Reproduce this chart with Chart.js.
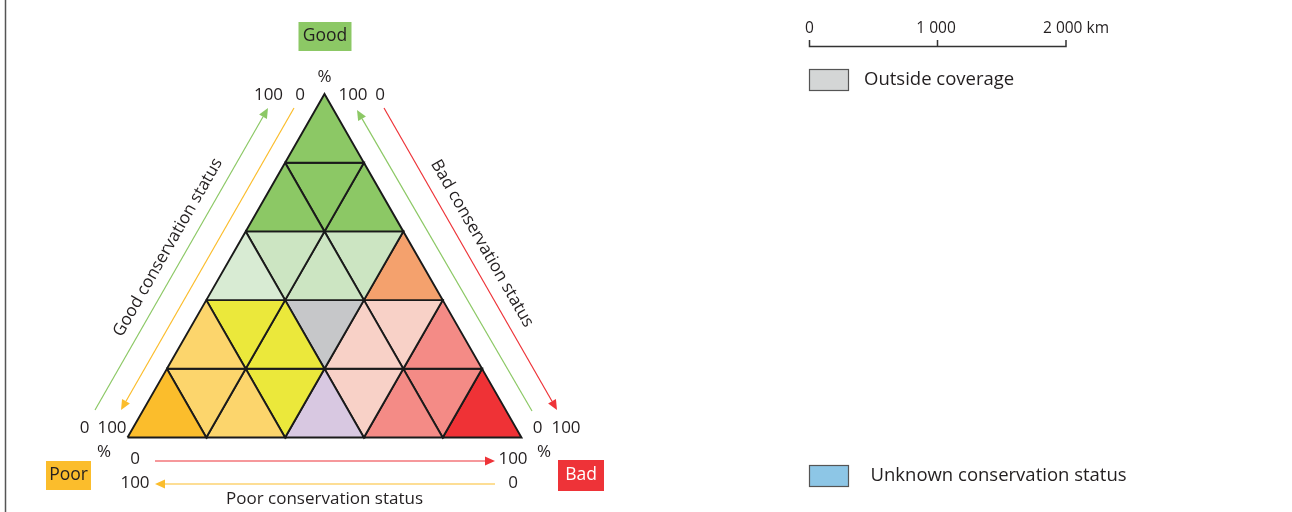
<!DOCTYPE html>
<html>
<head>
<meta charset="utf-8">
<script src="https://cdn.jsdelivr.net/npm/chart.js@4.4.1/dist/chart.umd.min.js"></script>
<style>
html, body { margin: 0; padding: 0; background: #fff; }
#wrap { width: 1292px; height: 512px; position: relative; overflow: hidden; }
</style>
</head>
<body>
<div id="wrap"><canvas id="ternary" width="1292" height="512"></canvas></div>
<script>
// share of "good" at the limits of each horizontal band, top to bottom
const bandsGood = [100, 80, 60, 40, 20, 0];
// colours of the cells, left to right, in each band
const rowTop = ["#8cc865"];
const rowSecond = ["#8cc865", "#8cc865", "#8cc865"];
const rowThird = ["#d8ebd3", "#cce5c2", "#cce5c2", "#cce5c2", "#f4a16d"];
const rowFourth = ["#fcd56c", "#ebe83b", "#ebe83b", "#c6c7c9", "#f8d1c7", "#f8d1c7", "#f48b86"];
const rowBottom = ["#fbbd2c", "#fcd56c", "#fcd56c", "#ebe83b", "#d8c8e1", "#f8d1c7", "#f48b86", "#f48b86", "#ef3236"];
const cornerNames = ["Good", "Poor", "Bad"];
const axisTitles = ["Good conservation status", "Bad conservation status", "Poor conservation status"];
const axisEnds = ["0", "100"];
const scaleTicks = ["0", "1 000", "2 000 km"];
const legendItems = ["Outside coverage", "Unknown conservation status"];

const GREEN = "#8cc865", ORANGE = "#fbbd2c", RED = "#ee3338", INK = "#231f20";
const step = bandsGood[0] - bandsGood[1];

// ternary (good, bad) -> plane
function pt(good, bad) {
	return { x: bad + good / 2, y: good };
}

const rows = [rowTop, rowSecond, rowThird, rowFourth, rowBottom];
const cells = [];
rows.forEach((colors, r) => {
	const gTop = bandsGood[r], gBot = bandsGood[r + 1];
	colors.forEach((color, k) => {
		const j = Math.floor(k / 2);
		let pts;
		if (k % 2 === 0) {
			pts = [pt(gBot, step * j), pt(gBot, step * (j + 1)), pt(gTop, step * j)];
		} else {
			pts = [pt(gTop, step * j), pt(gTop, step * (j + 1)), pt(gBot, step * (j + 1))];
		}
		pts.push(pts[0]);
		cells.push({
			data: pts,
			backgroundColor: color,
			borderColor: "#1a1a1a",
			borderWidth: 1.9,
			showLine: true,
			fill: "shape",
			pointRadius: 0,
			tension: 0
		});
	});
});

function arrow(ctx, x1, y1, x2, y2, color, head) {
	const a = Math.atan2(y2 - y1, x2 - x1);
	const hl = head ? 10 : 0, hw = 4.5;
	ctx.strokeStyle = color;
	ctx.fillStyle = color;
	ctx.lineWidth = 1.2;
	ctx.beginPath();
	ctx.moveTo(x1, y1);
	ctx.lineTo(x2 - hl * Math.cos(a), y2 - hl * Math.sin(a));
	ctx.stroke();
	if (head) {
		ctx.beginPath();
		ctx.moveTo(x2, y2);
		ctx.lineTo(x2 - hl * Math.cos(a) + hw * Math.sin(a), y2 - hl * Math.sin(a) - hw * Math.cos(a));
		ctx.lineTo(x2 - hl * Math.cos(a) - hw * Math.sin(a), y2 - hl * Math.sin(a) + hw * Math.cos(a));
		ctx.closePath();
		ctx.fill();
	}
}

function label(ctx, text, x, y, size, color) {
	ctx.font = (size || 17) + "px 'Open Sans'";
	ctx.fillStyle = color || INK;
	ctx.textAlign = "center";
	ctx.textBaseline = "middle";
	ctx.fillText(text, x, y);
}

function box(ctx, text, x, y, w, h, fill, color) {
	ctx.fillStyle = fill;
	ctx.fillRect(x, y, w, h);
	label(ctx, text, x + w / 2, y + h / 2, 17.5, color);
}

const decorations = {
	id: "decorations",
	afterDraw(chart) {
		const ctx = chart.ctx;
		const sx = chart.scales.x, sy = chart.scales.y;
		const apex = { x: sx.getPixelForValue(50), y: sy.getPixelForValue(100) };
		const left = { x: sx.getPixelForValue(0), y: sy.getPixelForValue(0) };
		const right = { x: sx.getPixelForValue(100), y: sy.getPixelForValue(0) };
		const ang = Math.atan2(left.y - apex.y, apex.x - left.x);
		ctx.save();

		// frame line at left
		ctx.strokeStyle = "#555";
		ctx.lineWidth = 1.5;
		ctx.beginPath();
		ctx.moveTo(5.5, 0);
		ctx.lineTo(5.5, 512);
		ctx.stroke();

		// corner boxes
		box(ctx, cornerNames[0], apex.x - 26, 22, 53, 29, GREEN, INK);
		box(ctx, cornerNames[1], 46, 461, 45, 29, ORANGE, INK);
		box(ctx, cornerNames[2], 558, 460, 46, 31, RED, "#fff");

		// end values
		label(ctx, "%", apex.x, 77);
		label(ctx, axisEnds[1], 268.5, 95);
		label(ctx, axisEnds[0], 300, 95);
		label(ctx, axisEnds[1], 353, 95);
		label(ctx, axisEnds[0], 380, 95);
		label(ctx, axisEnds[0], 84.5, 428);
		label(ctx, axisEnds[1], 112, 428);
		label(ctx, axisEnds[0], 537.5, 428);
		label(ctx, axisEnds[1], 566, 428);
		label(ctx, "%", 104, 452);
		label(ctx, "%", 544, 452);
		label(ctx, axisEnds[0], 135, 459);
		label(ctx, axisEnds[1], 513, 459);
		label(ctx, axisEnds[1], 135, 483);
		label(ctx, axisEnds[0], 513, 483);

		// arrows along the sides
		arrow(ctx, 95, 410, 268, 108, GREEN, true);
		arrow(ctx, 294, 108, 121, 410, ORANGE, true);
		arrow(ctx, 532, 411, 357, 110, GREEN, true);
		arrow(ctx, 384, 108, 557, 410, RED, true);
		arrow(ctx, 155, 461, 495, 461, RED, true);
		arrow(ctx, 495, 484, 155, 484, ORANGE, true);

		// axis titles
		ctx.save();
		ctx.translate(168, 247.5);
		ctx.rotate(-ang);
		label(ctx, axisTitles[0], 0, 0);
		ctx.restore();
		ctx.save();
		ctx.translate(482, 243.5);
		ctx.rotate(ang);
		label(ctx, axisTitles[1], 0, 0);
		ctx.restore();
		label(ctx, axisTitles[2], (left.x + right.x) / 2, 499);

		// scale bar
		ctx.strokeStyle = "#333";
		ctx.lineWidth = 1.5;
		ctx.beginPath();
		ctx.moveTo(809.5, 40);
		ctx.lineTo(809.5, 46.5);
		ctx.lineTo(1066, 46.5);
		ctx.lineTo(1066, 40);
		ctx.moveTo(937.5, 40);
		ctx.lineTo(937.5, 46.5);
		ctx.stroke();
		label(ctx, scaleTicks[0], 809.5, 29, 15.5);
		label(ctx, scaleTicks[1], 936, 29, 15.5);
		ctx.font = "15.5px 'Open Sans'";
		ctx.textAlign = "left";
		ctx.fillText(scaleTicks[2], 1043, 29);

		// legend
		ctx.lineWidth = 1.2;
		ctx.strokeStyle = "#555";
		ctx.fillStyle = "#d4d6d6";
		ctx.fillRect(809.5, 69.5, 39, 21);
		ctx.strokeRect(809.5, 69.5, 39, 21);
		ctx.fillStyle = "#8dc6e6";
		ctx.fillRect(809.5, 465.5, 39, 21);
		ctx.strokeRect(809.5, 465.5, 39, 21);
		ctx.font = "18.5px 'Open Sans'";
		ctx.fillStyle = INK;
		ctx.textAlign = "left";
		ctx.textBaseline = "middle";
		ctx.fillText(legendItems[0], 864, 80);
		ctx.fillText(legendItems[1], 870.5, 475.5);

		ctx.restore();
	}
};

new Chart(document.getElementById("ternary"), {
	type: "scatter",
	data: { datasets: cells },
	options: {
		responsive: false,
		animation: false,
		layout: { padding: 0 },
		plugins: {
			legend: { display: false },
			tooltip: { enabled: false }
		},
		scales: {
			x: { type: "linear", display: false, min: -32.36, max: 295.56 },
			y: { type: "linear", display: false, min: -21.69, max: 127.37 }
		}
	},
	plugins: [decorations]
});
</script>
</body>
</html>
